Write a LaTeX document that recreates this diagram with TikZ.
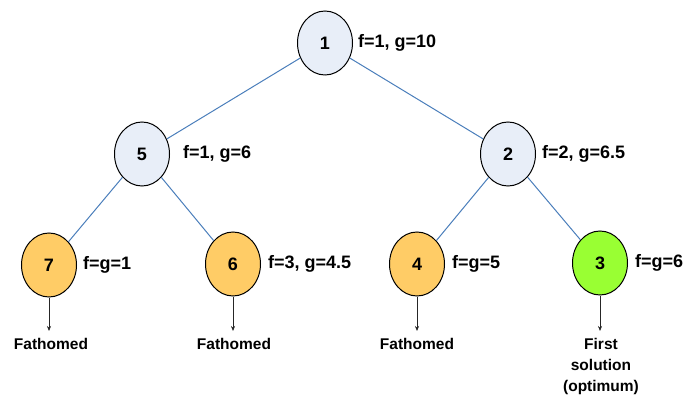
\documentclass[tikz,border=0pt]{standalone}
\usepackage{fontspec}
\setmainfont{Liberation Sans}
\usetikzlibrary{shapes.geometric,arrows.meta}
\definecolor{nodeblue}{HTML}{E8EEF8}
\definecolor{nodeorange}{HTML}{FFCC66}
\definecolor{nodegreen}{HTML}{99FF33}
\definecolor{edgeblue}{HTML}{4A7EBB}
\tikzset{
  tnode/.style={ellipse, draw=black, line width=1pt, minimum width=55pt, minimum height=64pt, inner sep=0pt, font=\fontsize{18}{20}\selectfont\bfseries},
  bluenode/.style={tnode, fill=nodeblue},
  orangenode/.style={tnode, fill=nodeorange},
  greennode/.style={tnode, fill=nodegreen},
  lbl/.style={anchor=west, inner sep=0pt, font=\fontsize{18}{20}\selectfont\bfseries},
  res/.style={anchor=north, inner sep=0pt, align=center, font=\fontsize{15.5}{21}\selectfont\bfseries},
  tedge/.style={draw=edgeblue, line width=1pt},
  fedge/.style={draw=black!85, line width=0.6pt, -{Stealth[length=5pt,width=4pt]}}
}
\begin{document}
\begin{tikzpicture}[x=1pt,y=-1pt]
\useasboundingbox (0,0) rectangle (685,403);
\node[bluenode] (n1) at (325,43) {1};
\node[bluenode] (n5) at (142,154) {5};
\node[bluenode] (n2) at (508,154) {2};
\node[orangenode] (n7) at (49,265) {7};
\node[orangenode] (n6) at (233,264) {6};
\node[orangenode] (n4) at (417,264) {4};
\node[greennode] (n3) at (600,263) {3};
\node[lbl] (l1) at (358,43) {f=1, g=10};
\node[lbl] (l5) at (183,154) {f=1, g=6};
\node[lbl] (l2) at (542,154) {f=2, g=6.5};
\node[lbl] (l7) at (83,265) {f=g=1};
\node[lbl] (l6) at (268,264) {f=3, g=4.5};
\node[lbl] (l4) at (452,264) {f=g=5};
\node[lbl] (l3) at (635,263) {f=g=6};
\draw[tedge] (n1) -- (n5);
\draw[tedge] (n1) -- (n2);
\draw[tedge] (n5) -- (n7);
\draw[tedge] (n5) -- (n6);
\draw[tedge] (n2) -- (n4);
\draw[tedge] (n2) -- (n3);
\coordinate (a7) at (49,331);
\coordinate (a6) at (233,331);
\coordinate (a4) at (417,331);
\coordinate (a3) at (600,331);
\draw[fedge] (n7) -- (a7);
\draw[fedge] (n6) -- (a6);
\draw[fedge] (n4) -- (a4);
\draw[fedge] (n3) -- (a3);
\node[res] (r7) at (51,338) {Fathomed};
\node[res] (r6) at (234,338) {Fathomed};
\node[res] (r4) at (417,338) {Fathomed};
\node[res] (r3) at (601,338) {First\\solution\\(optimum)};
\end{tikzpicture}
\end{document}
